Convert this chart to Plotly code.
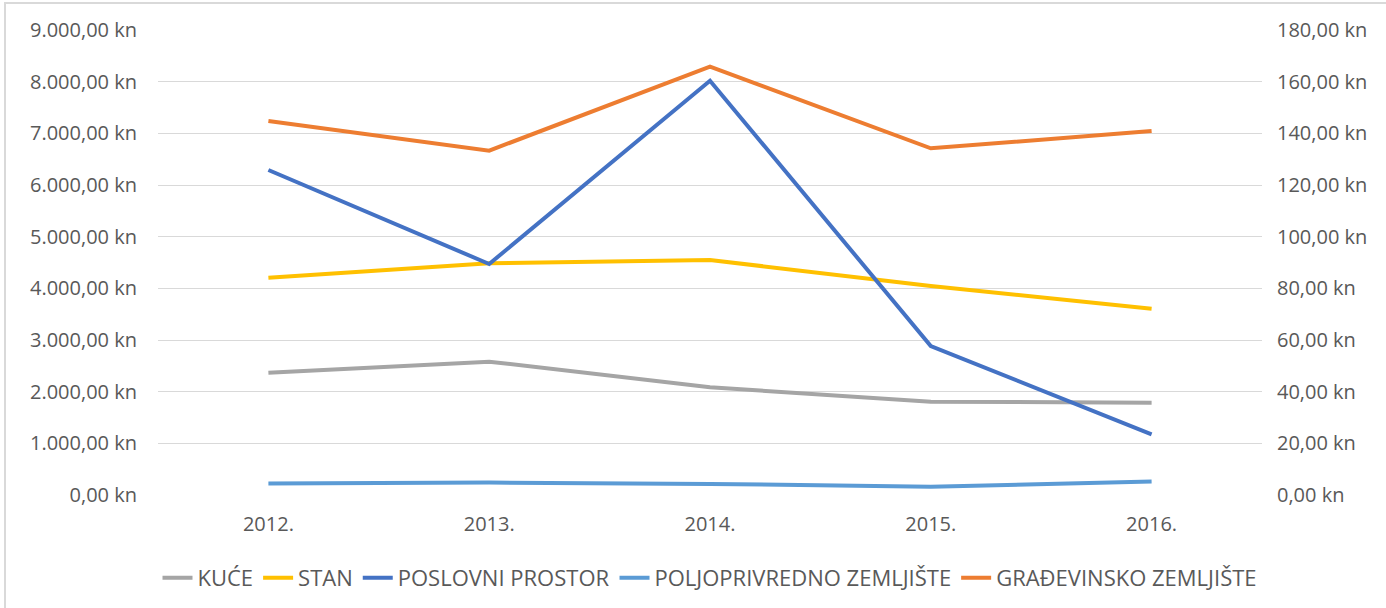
import plotly.graph_objects as go

years = ["2012.", "2013.", "2014.", "2015.", "2016."]
kuce = [2368, 2581, 2084, 1806, 1787]
stan = [4206, 4484, 4548, 4045, 3606]
poslovni = [6290, 4471, 8019, 2884, 1174]
poljoprivredno = [4.5, 4.8, 4.3, 3.2, 5.2]
gradjevinsko = [144.8, 133.3, 165.8, 134.2, 140.9]

left_ticks = list(range(0, 9001, 1000))
left_text = ["0,00 kn", "1.000,00 kn", "2.000,00 kn", "3.000,00 kn", "4.000,00 kn",
             "5.000,00 kn", "6.000,00 kn", "7.000,00 kn", "8.000,00 kn", "9.000,00 kn"]
right_ticks = list(range(0, 181, 20))
right_text = ["0,00 kn", "20,00 kn", "40,00 kn", "60,00 kn", "80,00 kn",
              "100,00 kn", "120,00 kn", "140,00 kn", "160,00 kn", "180,00 kn"]

font_family = "'Open Sans', sans-serif"
txt = "#595959"

fig = go.Figure()
series = [
    ("KUĆE", kuce, "#A5A5A5", "y"),
    ("STAN", stan, "#FFC000", "y"),
    ("POSLOVNI PROSTOR", poslovni, "#4472C4", "y"),
    ("POLJOPRIVREDNO ZEMLJIŠTE", poljoprivredno, "#5B9BD5", "y2"),
    ("GRAĐEVINSKO ZEMLJIŠTE", gradjevinsko, "#ED7D31", "y2"),
]
for name, vals, col, ax in series:
    fig.add_trace(go.Scatter(x=years, y=vals, name=name, mode="lines",
                             line=dict(color=col, width=4), yaxis=ax))

W, H = 1386, 608
L, R, T, B = 158, 124, 30, 113
pw, ph = W - L - R, H - T - B
fig.update_layout(
    width=W, height=H,
    margin=dict(l=L, r=R, t=T, b=B, autoexpand=False),
    paper_bgcolor="white", plot_bgcolor="white",
    font=dict(family=font_family, size=20, color=txt),
    showlegend=True,
    legend=dict(orientation="h", x=0.5, xanchor="center", y=-(578 - (H - B)) / ph, yanchor="middle",
                font=dict(size=22, color=txt), traceorder="normal"),
    xaxis=dict(type="category", range=[-0.5, 4.5], showgrid=False, showline=False,
               ticks="", ticklabelstandoff=15, tickfont=dict(size=20, color=txt)),
    yaxis=dict(range=[0, 9000], tickvals=left_ticks, ticktext=left_text,
               showgrid=True, gridcolor="#D9D9D9", gridwidth=1, zeroline=False,
               showline=False, ticks="", ticklabelstandoff=20, tickfont=dict(size=20, color=txt)),
    yaxis2=dict(range=[0, 180], tickvals=right_ticks, ticktext=right_text,
                overlaying="y", side="right", showgrid=False, zeroline=False,
                showline=False, ticks="", ticklabelstandoff=14, tickfont=dict(size=20, color=txt)),
)
fig.add_shape(type="rect", xref="paper", yref="paper",
              x0=(5 - L) / pw, x1=(W + 10 - L) / pw,
              y0=-(H + 10 - (H - B)) / ph, y1=((H - B) - 3) / ph,
              line=dict(color="#D9D9D9", width=2), fillcolor="rgba(0,0,0,0)", layer="below")

fig.write_html("out.html", config={"displayModeBar": False},
               post_script="document.body.style.margin='0px';")
